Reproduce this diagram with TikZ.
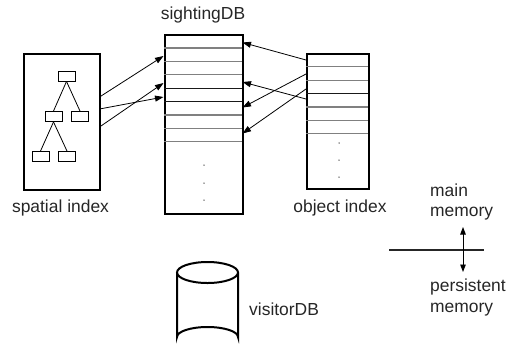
\documentclass[tikz,border=0pt]{standalone}
\usepackage{fontspec}
\setmainfont{Liberation Sans}
\usetikzlibrary{arrows.meta}
\begin{document}
\begin{tikzpicture}[x=1bp,y=-1bp,
  box/.style={draw, line width=1.6bp, inner sep=0pt, anchor=north west},
  tnode/.style={draw, line width=0.9bp, minimum width=17bp, minimum height=10bp, inner sep=0pt},
  tedge/.style={line width=0.8bp},
  row/.style={line width=1.2bp, black!50},
  rowd/.style={line width=1.2bp, black!90},
  ptr/.style={line width=0.8bp, -{Triangle[length=8.5bp,width=6bp]}},
  lbl/.style={font=\fontsize{17.5}{20.5}\selectfont, text=black!85, inner sep=0pt},
  dot/.style={circle, fill=black!70, inner sep=0pt, minimum size=1.5bp}
]
\useasboundingbox (0,0) rectangle (508,349);

% spatial index
\node[box, minimum width=76bp, minimum height=136bp] (sp) at (23,53) {};
\node[tnode] (r) at (66.5,76) {};
\node[tnode] (ml) at (53.5,116.5) {};
\node[tnode] (mr) at (80,116.5) {};
\node[tnode] (bl) at (40.5,156.5) {};
\node[tnode] (br) at (67,156.5) {};
\draw[tedge] (r.south) -- (ml.north);
\draw[tedge] (r.south) -- (mr.north);
\draw[tedge] (ml.south) -- (bl.north);
\draw[tedge] (ml.south) -- (br.north);
\node[lbl] (splbl) at (60.5,208) {spatial index};

% sightingDB
\node[box, minimum width=78bp, minimum height=179bp] (sdb) at (164,34) {};
\foreach \y in {47.9,61.3,74.7,114.9,128.3,141.7}
  \draw[row] (164,\y) -- (242,\y);
\foreach \y in {88.1,101.5}
  \draw[rowd] (164,\y) -- (242,\y);
\node[dot] (sd1) at (204,165) {};
\node[dot] (sd2) at (204,183) {};
\node[dot] (sd3) at (204,200) {};
\node[lbl] (sdblbl) at (203,15) {sightingDB};

% object index
\node[box, minimum width=62bp, minimum height=135bp] (oi) at (306,53) {};
\foreach \y in {66.7,80.1,106.9,120.3,133.7}
  \draw[row] (306,\y) -- (368,\y);
\draw[rowd] (306,93.5) -- (368,93.5);
\node[dot] (od1) at (339,143) {};
\node[dot] (od2) at (339,160) {};
\node[dot] (od3) at (339,177) {};
\node[lbl] (oilbl) at (340,208) {object index};

% pointer coordinates
\coordinate (a1) at (99.5,97);
\coordinate (a2) at (99.5,109);
\coordinate (a3) at (99.5,127);
\coordinate (b1) at (163.5,56);
\coordinate (b2) at (163.5,97);
\coordinate (b3) at (163.5,83);
\draw[ptr] (a1) -- (b1);
\draw[ptr] (a2) -- (b2);
\draw[ptr] (a3) -- (b3);

\coordinate (c1) at (306,60);
\coordinate (c2) at (306,99);
\coordinate (c3) at (306,74);
\coordinate (c4) at (306,89);
\coordinate (d1) at (242.5,42.5);
\coordinate (d2) at (242.5,82);
\coordinate (d3) at (242.5,107.5);
\coordinate (d4) at (242.5,133.5);
\draw[ptr] (c1) -- (d1);
\draw[ptr] (c2) -- (d2);
\draw[ptr] (c3) -- (d3);
\draw[ptr] (c4) -- (d4);

% visitorDB cylinder
\coordinate (cyl) at (207.5,272.5);
\draw[line width=2bp] (cyl) ellipse [x radius=30.5bp, y radius=10.5bp];
\draw[line width=2bp] (177,272.5) -- (177,337) arc[start angle=180, end angle=360, x radius=30.5bp, y radius=-10bp] -- (238,272.5);
\node[lbl, anchor=west] (vlbl) at (249,309) {visitorDB};

% memory divider
\coordinate (h1) at (389,250);
\coordinate (h2) at (484,250);
\draw[line width=1.5bp, black!85] (h1) -- (h2);
\coordinate (up) at (463,227);
\coordinate (dn) at (463,272);
\draw[line width=0.9bp, {Triangle[length=7.5bp,width=5.5bp]}-{Triangle[length=7.5bp,width=5.5bp]}] (up) -- (dn);
\node[lbl, anchor=west, align=left] (mm) at (430,202) {main\\memory};
\node[lbl, anchor=west, align=left] (pm) at (430,297.5) {persistent\\memory};
\end{tikzpicture}
\end{document}
